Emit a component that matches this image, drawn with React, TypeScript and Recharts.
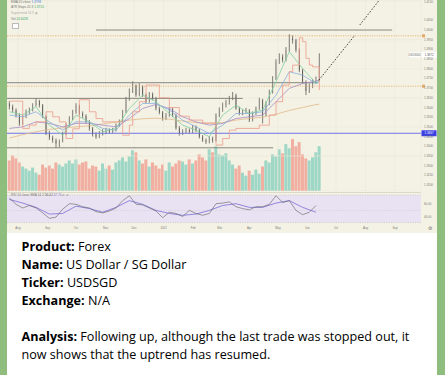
import { ComposedChart, Bar, Line, XAxis, YAxis, CartesianGrid, ReferenceLine, ReferenceArea, Cell } from "recharts";

// x is days from 1 Aug 2021; one candle every 3.5 days
const FIRST_DAY = -9;
const DAYS_PER_CANDLE = 3.5;
const FIRST_OPEN = 1.362;

const closes = [
  1.3604, 1.3587, 1.3561, 1.3518, 1.3552, 1.3578, 1.3587, 1.3612, 1.3633, 1.3612,
  1.3552, 1.3466, 1.3444, 1.3431, 1.3414, 1.3426, 1.3466, 1.3509, 1.3543, 1.3575,
  1.3609, 1.3569, 1.3557, 1.3526, 1.3492, 1.3461, 1.3449, 1.3466, 1.3475, 1.3483,
  1.3475, 1.3483, 1.3509, 1.3526, 1.3578, 1.3643, 1.3685, 1.3712, 1.3664, 1.3707,
  1.3664, 1.3633, 1.3669, 1.3647, 1.3595, 1.3575, 1.3543, 1.3561, 1.3592, 1.3561,
  1.3495, 1.3466, 1.3475, 1.3483, 1.3475, 1.3499, 1.3483, 1.3449, 1.3431, 1.3423,
  1.344, 1.343, 1.3561, 1.3587, 1.3612, 1.3626, 1.3647, 1.3664, 1.3595, 1.3569,
  1.3578, 1.3585, 1.3535, 1.3569, 1.3595, 1.3638, 1.3561, 1.3621, 1.3681, 1.375,
  1.3836, 1.3862, 1.3845, 1.3897, 1.3957, 1.3948, 1.3897, 1.3793, 1.3733, 1.3685,
  1.3712, 1.3736, 1.3742, 1.3871,
];
const highs = [
  1.3632, 1.3615, 1.3596, 1.357, 1.356, 1.359, 1.36, 1.3622, 1.3648, 1.364,
  1.3618, 1.356, 1.348, 1.3455, 1.344, 1.3435, 1.3475, 1.3518, 1.3555, 1.3588,
  1.3622, 1.3615, 1.358, 1.3565, 1.3535, 1.35, 1.3472, 1.3478, 1.3488, 1.3495,
  1.3492, 1.3495, 1.3518, 1.3538, 1.3588, 1.3655, 1.3698, 1.3735, 1.372, 1.3725,
  1.3715, 1.3672, 1.368, 1.3678, 1.3655, 1.3605, 1.3582, 1.3572, 1.3602, 1.36,
  1.3568, 1.3505, 1.3488, 1.3495, 1.3492, 1.351, 1.3508, 1.349, 1.3458, 1.344,
  1.3452, 1.345, 1.357, 1.36, 1.3625, 1.364, 1.366, 1.368, 1.3672, 1.3605,
  1.359, 1.3598, 1.3592, 1.358, 1.3605, 1.365, 1.3645, 1.3632, 1.3692, 1.3762,
  1.385, 1.388, 1.3875, 1.3912, 1.3978, 1.3972, 1.3955, 1.3905, 1.38, 1.374,
  1.3725, 1.3748, 1.376, 1.388,
];
const lows = [
  1.359, 1.3575, 1.3548, 1.3505, 1.351, 1.3545, 1.3566, 1.358, 1.3605, 1.36,
  1.3545, 1.3458, 1.3432, 1.3418, 1.3392, 1.3395, 1.342, 1.3458, 1.35, 1.3535,
  1.3568, 1.356, 1.3545, 1.3515, 1.348, 1.345, 1.3438, 1.3442, 1.3455, 1.3462,
  1.3465, 1.3468, 1.3476, 1.35, 1.352, 1.357, 1.3635, 1.3675, 1.3655, 1.3658,
  1.3655, 1.3622, 1.3625, 1.3638, 1.3585, 1.3565, 1.3532, 1.3535, 1.3552, 1.355,
  1.3485, 1.3455, 1.3458, 1.3466, 1.3465, 1.3468, 1.3472, 1.344, 1.3422, 1.3412,
  1.3415, 1.3418, 1.3425, 1.355, 1.3578, 1.36, 1.3615, 1.3638, 1.3588, 1.356,
  1.356, 1.357, 1.3525, 1.3528, 1.3562, 1.3588, 1.3518, 1.3555, 1.3612, 1.3672,
  1.3742, 1.3825, 1.3832, 1.3838, 1.3888, 1.393, 1.3885, 1.3782, 1.3722, 1.3664,
  1.3675, 1.37, 1.3725, 1.3735,
];
const volumes = [
  30, 35, 32, 28, 24, 22, 20, 23, 18, 16, 26, 23, 25, 22, 28, 26, 24, 27, 30, 27,
  31, 26, 28, 29, 22, 25, 24, 20, 27, 22, 25, 21, 28, 30, 33, 29, 34, 40, 38, 30,
  27, 31, 24, 28, 25, 22, 26, 20, 28, 24, 27, 30, 29, 26, 31, 27, 30, 36, 33, 30,
  41, 38, 44, 36, 35, 37, 30, 26, 22, 25, 18, 15, 20, 16, 21, 17, 24, 30, 28, 36,
  34, 41, 37, 46, 42, 51, 44, 48, 36, 32, 30, 33, 38, 44,
];

// moving averages, read every 4th candle (plus the last)
const maAt = [0, 4, 8, 12, 16, 20, 24, 28, 32, 36, 40, 44, 48, 52, 56, 60, 64, 68, 72, 76, 80, 84, 88, 92, 93];
const emaFast = [1.3578, 1.3561, 1.3604, 1.3509, 1.3457, 1.3561, 1.3526, 1.3475, 1.3492, 1.3595, 1.3664, 1.363, 1.3569, 1.3509, 1.3483, 1.3449, 1.3561, 1.3612, 1.3569, 1.3587, 1.3733, 1.3888, 1.3802, 1.3724, 1.3742];
const emaMid = [1.3561, 1.3552, 1.3578, 1.3526, 1.3483, 1.3526, 1.3526, 1.3492, 1.3483, 1.3561, 1.3621, 1.3621, 1.3587, 1.3535, 1.35, 1.3466, 1.3509, 1.3569, 1.3569, 1.3578, 1.3664, 1.3785, 1.3767, 1.3724, 1.3733];
const emaSlow = [1.3492, 1.35, 1.3526, 1.3518, 1.35, 1.3518, 1.3518, 1.3509, 1.35, 1.3543, 1.3595, 1.3616, 1.3595, 1.3552, 1.3526, 1.3509, 1.3518, 1.3543, 1.3552, 1.3561, 1.363, 1.3699, 1.3724, 1.3736, 1.3742];
const emaLong = [1.3442, 1.346, 1.3475, 1.3487, 1.3495, 1.35, 1.3506, 1.3515, 1.3525, 1.3535, 1.3542, 1.3545, 1.354, 1.353, 1.3522, 1.3518, 1.3522, 1.3535, 1.3543, 1.355, 1.3565, 1.3585, 1.36, 1.3615, 1.3617];

// ATR stops step line
const stopAt = [0, 4, 6, 8, 11, 13, 15, 17, 19, 21, 24, 26, 28, 34, 36, 37, 39, 41, 45, 48, 51, 54, 58, 62, 64, 66, 68, 75, 78, 80, 82, 84, 85, 87, 88, 89, 90, 91, 93];
const stopVal = [1.3633, 1.3492, 1.3509, 1.3526, 1.3578, 1.3552, 1.3526, 1.344, 1.349, 1.364, 1.3578, 1.3543, 1.3526, 1.3457, 1.3509, 1.3578, 1.363, 1.3716, 1.365, 1.36, 1.3555, 1.3535, 1.352, 1.3406, 1.344, 1.3483, 1.3492, 1.3509, 1.3561, 1.363, 1.3716, 1.3785, 1.3819, 1.396, 1.394, 1.3854, 1.3819, 1.381, 1.369];

// RSI every 2nd candle, its SMA every 4th
const rsi = [70, 60, 54, 58, 54, 46, 37, 39, 52, 61, 60, 56, 54, 48, 46, 49, 54, 66, 74, 60, 59, 54, 49, 38, 47, 45, 40, 50, 45, 42, 45, 61, 62, 64, 56, 53, 51, 56, 56, 60, 74, 63, 66, 50, 43, 47, 58];
const rsiMa = [68, 62, 55, 44, 45, 57, 53, 47, 55, 66, 60, 50, 45, 42, 44, 50, 58, 61, 55, 55, 62, 66, 55, 47];

const monthDays = [0, 31, 61, 92, 122, 153, 184, 212, 243, 273, 304, 334, 365, 396];
const monthLabels = ["Aug", "Sep", "Oct", "Nov", "Dec", "2022", "Feb", "Mar", "Apr", "May", "Jun", "Jul", "Aug", "Sep"];
const priceTicks = [1.32, 1.325, 1.33, 1.335, 1.34, 1.345, 1.35, 1.355, 1.36, 1.365, 1.37, 1.375, 1.38, 1.385, 1.39, 1.395, 1.4, 1.405, 1.41, 1.415];

// drawn levels: price, from day, to day
const levelPrices = [1.4, 1.3728, 1.3647, 1.3392];
const levelFrom = [82, -11.5, -11.5, -11.5];
const levelTo = [393, 315, 236, 268];
const alertPrices = [1.397, 1.371];
const supportPrice = 1.3467;
const lastPrice = 1.3872;
const proj1 = [{ day: 316, p: 1.3741 }, { day: 354, p: 1.3974 }];
const proj2 = [{ day: 359, p: 1.4026 }, { day: 386, p: 1.4195 }];

const X_DOMAIN = [-11.5, 423.3];
const dayOf = (i: number) => FIRST_DAY + DAYS_PER_CANDLE * i;

const candles = closes.map((c, i) => {
  const o = i === 0 ? FIRST_OPEN : closes[i - 1];
  return { day: dayOf(i), open: o, close: c, high: highs[i], low: lows[i], range: [lows[i], highs[i]], vol: volumes[i], up: c >= o };
});
const maLine = (vals: number[]) => maAt.map((i, k) => ({ day: dayOf(i), v: vals[k] }));
const stopLine = stopAt.map((i, k) => ({ day: dayOf(i), v: stopVal[k] }));
const rsiLine = rsi.map((v, k) => ({ day: dayOf(2 * k), v }));
const rsiMaLine = rsiMa.map((v, k) => ({ day: dayOf(4 * k), v }));

const AX_FONT = "'Liberation Sans', Arial, sans-serif";

function Candle(props: any) {
  const { x, y, width, height, payload } = props;
  if (!payload) return null;
  const top = Math.min(y, y + height);
  const h = Math.abs(height);
  const { open, close, high, low } = payload;
  const k = h / (high - low || 1);
  const yOf = (p: number) => top + (high - p) * k;
  const b1 = yOf(Math.max(open, close));
  const b2 = yOf(Math.min(open, close));
  const cx = x + width / 2;
  const col = close >= open ? "#8f8f89" : "#2f2f2f";
  return (
    <g>
      <line x1={cx} x2={cx} y1={top} y2={top + h} stroke="#4a4a4a" strokeWidth={0.7} />
      <rect x={x} y={b1} width={width} height={Math.max(0.8, b2 - b1)} fill={col} />
    </g>
  );
}

function AxisTag(props: any) {
  const { viewBox, text, bg, color, name } = props;
  if (!viewBox) return null;
  const x = viewBox.x + viewBox.width;
  const y = viewBox.y;
  return (
    <g fontFamily={AX_FONT}>
      {name && (
        <g>
          <rect x={x - 12} y={y - 2.5} width={11} height={5} fill="#ffffff" />
          <text x={x - 6.5} y={y + 1} textAnchor="middle" fontSize={2.8} fill="#666">{name}</text>
        </g>
      )}
      <rect x={x + 0.5} y={y - 3} width={15} height={6} fill={bg} />
      <text x={x + 8} y={y + 1.1} textAnchor="middle" fontSize={3} fill={color}>{text}</text>
    </g>
  );
}

function AlertMark(props: any) {
  const { viewBox } = props;
  if (!viewBox) return null;
  const x = viewBox.x + viewBox.width;
  return <rect x={x + 1} y={viewBox.y - 1.5} width={3} height={3} fill="#e3a766" />;
}

const tiny = { position: "absolute" as const, fontFamily: AX_FONT, fontSize: 3.2, whiteSpace: "nowrap" as const, color: "#777" };
const axisTick = { fontSize: 2.9, fill: "#7a7a7a", fontFamily: AX_FONT };

export default function App() {
  return (
    <div style={{ position: "absolute", left: 0, top: 0, width: 445, height: 375, background: "#8fbd7d", overflow: "hidden" }}>
      <style>{"body{margin:0}"}</style>
      <div style={{ position: "absolute", left: 7, top: 0, width: 430, height: 375, background: "#ffffff" }} />
      <div style={{ position: "absolute", left: 7, top: 0, width: 430, height: 233, background: "#f4f2e4" }} />

      {/* volume pane, under the candles */}
      <div style={{ position: "absolute", left: 7, top: 135 }}>
        <ComposedChart width={430} height={56} data={candles} margin={{ top: 0, right: 16, bottom: 0, left: 0 }}>
          <XAxis dataKey="day" type="number" domain={X_DOMAIN} hide />
          <YAxis domain={[0, 55]} hide />
          <Bar dataKey="vol" barSize={3} isAnimationActive={false}>
            {candles.map((c, i) => (
              <Cell key={i} fill={c.up ? "#8fd2c1" : "#f0a397"} fillOpacity={0.85} />
            ))}
          </Bar>
        </ComposedChart>
      </div>

      {/* price pane */}
      <div style={{ position: "absolute", left: 7, top: 0 }}>
        <ComposedChart width={430} height={191} data={candles} margin={{ top: 0, right: 0, bottom: 0, left: 0 }}>
          <CartesianGrid stroke="#ebe8d9" strokeWidth={0.6} />
          <XAxis dataKey="day" type="number" domain={X_DOMAIN} ticks={monthDays} hide />
          <YAxis
            orientation="right"
            width={16}
            domain={[1.3169, 1.4155]}
            ticks={priceTicks}
            allowDataOverflow
            axisLine={false}
            tickLine={false}
            tickSize={0}
            tickMargin={3}
            tick={axisTick}
            tickFormatter={(v: number) => v.toFixed(4)}
          />
          {alertPrices.map((p) => (
            <ReferenceLine key={p} y={p} stroke="#e8a65e" strokeWidth={0.8} strokeDasharray="1.2 1.2" label={<AlertMark />} />
          ))}
          {levelPrices.map((p, i) => (
            <ReferenceLine key={p} segment={[{ x: levelFrom[i], y: p }, { x: levelTo[i], y: p }]} stroke="#7b7b73" strokeWidth={0.9} />
          ))}
          <ReferenceLine y={supportPrice} stroke="#6068e8" strokeWidth={0.9} label={<AxisTag text="1.3467" bg="#3b3fe3" color="#ffffff" />} />
          <Line data={maLine(emaLong)} dataKey="v" stroke="#e2b98a" strokeWidth={0.8} dot={false} isAnimationActive={false} />
          <Line data={maLine(emaSlow)} dataKey="v" stroke="#a68bc9" strokeWidth={0.8} dot={false} isAnimationActive={false} />
          <Line data={maLine(emaMid)} dataKey="v" stroke="#86aee0" strokeWidth={0.8} dot={false} isAnimationActive={false} />
          <Line data={maLine(emaFast)} dataKey="v" stroke="#7fcf9f" strokeWidth={0.8} dot={false} isAnimationActive={false} />
          <Line data={stopLine} dataKey="v" type="stepAfter" stroke="#ec9a8c" strokeWidth={0.8} dot={false} isAnimationActive={false} />
          <Bar dataKey="range" barSize={2} shape={(p: any) => <Candle {...p} />} isAnimationActive={false} />
          <Line data={proj1} dataKey="p" stroke="#333" strokeWidth={0.9} strokeDasharray="1.6 1.6" dot={false} isAnimationActive={false} />
          <Line data={proj2} dataKey="p" stroke="#333" strokeWidth={0.9} strokeDasharray="1.6 1.6" dot={false} isAnimationActive={false} />
          <ReferenceLine y={lastPrice} stroke="none" label={<AxisTag text="1.3872" name="USDSGD" bg="#ffffff" color="#555" />} />
        </ComposedChart>
      </div>

      {/* legend of the main pane */}
      <div style={{ ...tiny, left: 11, top: 0 }}>EMA 20 close <span style={{ color: "#4a7fe0" }}>1.3798</span></div>
      <div style={{ ...tiny, left: 11, top: 5 }}>ATR Stops 20 3 <span style={{ color: "#3aa66a" }}>1.3710</span></div>
      <div style={{ ...tiny, left: 11, top: 11, color: "#aaa" }}>Supertrend 10 3 ◉</div>
      <div style={{ ...tiny, left: 11, top: 17 }}>Vol <span style={{ color: "#3aa66a" }}>14.602K</span></div>
      <div style={{ position: "absolute", left: 12, top: 22.5, width: 5, height: 4, border: "0.5px solid #bbb", background: "#fff" }} />

      {/* RSI pane + time axis */}
      <div style={{ position: "absolute", left: 7, top: 191.5, width: 414, height: 0.6, background: "#dcd9cc" }} />
      <div style={{ position: "absolute", left: 7, top: 192 }}>
        <ComposedChart width={430} height={41} data={candles} margin={{ top: 0, right: 0, bottom: 0, left: 0 }}>
          <XAxis
            dataKey="day"
            type="number"
            domain={X_DOMAIN}
            ticks={monthDays}
            height={9}
            axisLine={false}
            tickLine={false}
            tickSize={1}
            tickMargin={2}
            tick={axisTick}
            tickFormatter={(v: number) => monthLabels[monthDays.indexOf(v)]}
          />
          <YAxis
            orientation="right"
            width={16}
            domain={[27.7, 80.2]}
            ticks={[60, 40]}
            axisLine={false}
            tickLine={false}
            tickSize={0}
            tickMargin={3}
            tick={axisTick}
            tickFormatter={(v: number) => v.toFixed(2)}
          />
          <ReferenceArea y1={30} y2={75} fill="#e8e2f2" fillOpacity={1} stroke="none" />
          <ReferenceLine y={75} stroke="#b5b0bb" strokeWidth={0.5} strokeDasharray="1.2 1.2" />
          <ReferenceLine y={50} stroke="#c8c3ce" strokeWidth={0.5} strokeDasharray="1.2 1.2" />
          <ReferenceLine y={30} stroke="#b5b0bb" strokeWidth={0.5} strokeDasharray="1.2 1.2" />
          <Line data={rsiMaLine} dataKey="v" stroke="#7b6fd6" strokeWidth={0.8} dot={false} isAnimationActive={false} />
          <Line data={rsiLine} dataKey="v" stroke="#5f5f5f" strokeWidth={0.6} dot={false} isAnimationActive={false} />
        </ComposedChart>
      </div>
      <div style={{ ...tiny, left: 11, top: 192.5 }}>RSI 14 close SMA 14 2 <span style={{ color: "#555" }}>56.42</span> <span style={{ color: "#7b6fd6" }}>47.70</span> ∅ ∅</div>
      <div style={{ ...tiny, left: 428, top: 226, fontSize: 4.5 }}>⚙</div>

      {/* message text */}
      <div style={{ position: "absolute", left: 21.5, top: 238, fontFamily: "'Open Sans', sans-serif", fontSize: 12.6, lineHeight: "18px", color: "#000", whiteSpace: "nowrap" }}>
        <div><b>Product:</b> Forex</div>
        <div><b>Name:</b> US Dollar / SG Dollar</div>
        <div><b>Ticker:</b> USDSGD</div>
        <div><b>Exchange:</b> N/A</div>
        <div style={{ height: 18 }} />
        <div><b>Analysis:</b> Following up, although the last trade was stopped out, it</div>
        <div>now shows that the uptrend has resumed.</div>
      </div>
    </div>
  );
}
